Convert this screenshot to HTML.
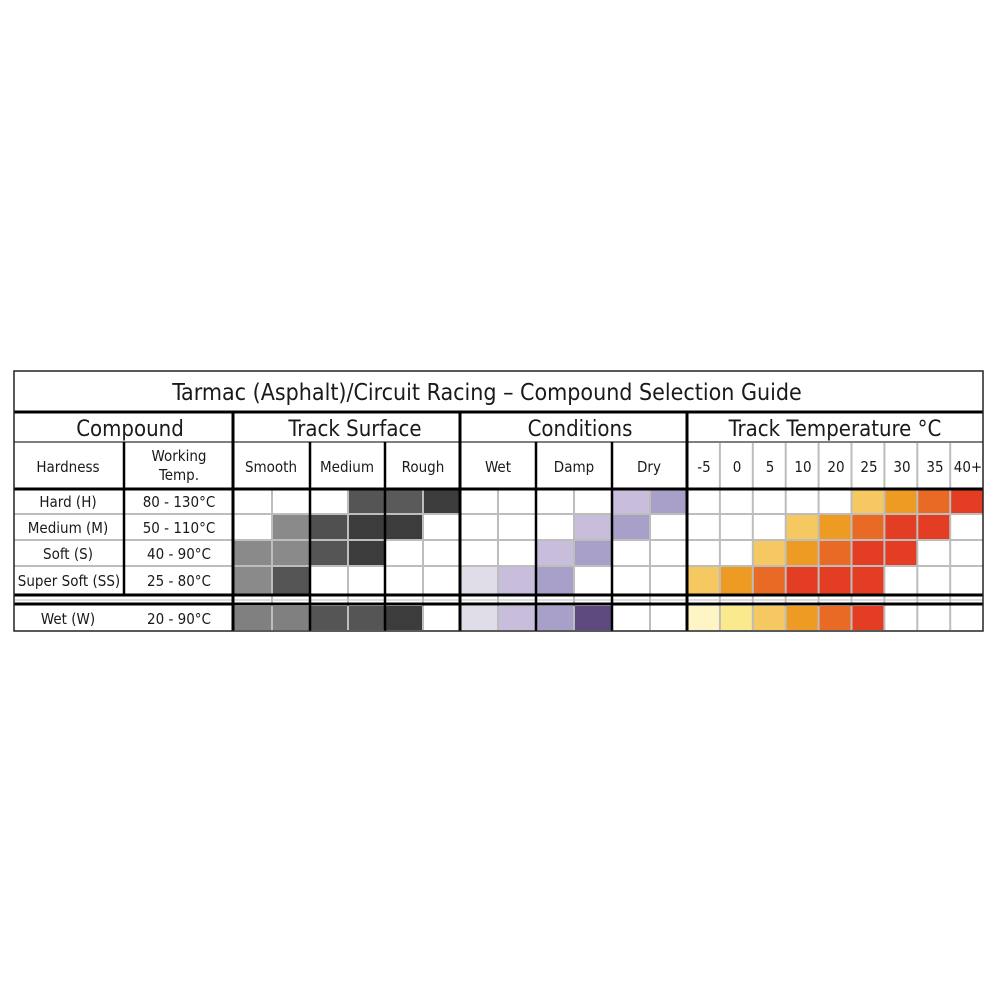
<!DOCTYPE html>
<html><head><meta charset="utf-8"><style>
html,body{margin:0;padding:0;background:#fff;}
svg{display:block;}
text{font-family:"DejaVu Sans Condensed","Liberation Sans Narrow","Liberation Sans",sans-serif;fill:#1a1a1a;}
</style></head><body>
<svg id="s" width="1000" height="1000" viewBox="0 0 1000 1000" xmlns="http://www.w3.org/2000/svg">
<rect width="1000" height="1000" fill="#fff"/>
<g id="cells"></g>
<g id="lines"></g>
<g text-anchor="middle">
<text x="487" y="400" font-size="23">Tarmac (Asphalt)/Circuit Racing – Compound Selection Guide</text>
<text x="130" y="436" font-size="22">Compound</text>
<text x="355" y="436" font-size="22">Track Surface</text>
<text x="580" y="436" font-size="22">Conditions</text>
<text x="835" y="436" font-size="22">Track Temperature °C</text>
<text x="68" y="472" font-size="15">Hardness</text>
<text x="179" y="461" font-size="15">Working</text>
<text x="179" y="480" font-size="15">Temp.</text>
<text x="271" y="472" font-size="15">Smooth</text>
<text x="347" y="472" font-size="15">Medium</text>
<text x="423" y="472" font-size="15">Rough</text>
<text x="498" y="472" font-size="15">Wet</text>
<text x="574" y="472" font-size="15">Damp</text>
<text x="649" y="472" font-size="15">Dry</text>
<text x="704" y="472" font-size="15">-5</text>
<text x="737" y="472" font-size="15">0</text>
<text x="770" y="472" font-size="15">5</text>
<text x="803" y="472" font-size="15">10</text>
<text x="836" y="472" font-size="15">20</text>
<text x="869" y="472" font-size="15">25</text>
<text x="902" y="472" font-size="15">30</text>
<text x="935" y="472" font-size="15">35</text>
<text x="968" y="472" font-size="15">40+</text>
<text x="68" y="507" font-size="15">Hard (H)</text>
<text x="68" y="533" font-size="15">Medium (M)</text>
<text x="68" y="559" font-size="15">Soft (S)</text>
<text x="69" y="586" font-size="15">Super Soft (SS)</text>
<text x="68" y="624" font-size="15">Wet (W)</text>
<text x="179" y="507" font-size="15">80 - 130°C</text>
<text x="179" y="533" font-size="15">50 - 110°C</text>
<text x="179" y="559" font-size="15">40 - 90°C</text>
<text x="179" y="586" font-size="15">25 - 80°C</text>
<text x="179" y="624" font-size="15">20 - 90°C</text>
</g>
</svg>
<script>
var NS="http://www.w3.org/2000/svg";
function el(p,t,a){var e=document.createElementNS(NS,t);for(var k in a)e.setAttribute(k,a[k]);document.getElementById(p).appendChild(e);}
var rows=[[490,514],[514,540],[540,566],[566,594],[606,630]];
var sx=[233,272,310,348,385,423,460,498,536,574,612,650,687];
var tx=[];for(var i=0;i<=9;i++)tx.push(687+i*32.9);
var w=null,A="#8a8a8a",B="#555",C="#3c3c3c",L1="#e0dde9",L2="#c8bedc",L3="#a9a0c9",P="#5e4a7e",Y="#f6c862",O="#ee9b23",D="#e86a25",R="#e33e24";
var data=[
[w,w,w,B,"#5a5a5a",C, w,w,w,w,L2,L3, w,w,w,w,w,Y,O,D,R],
[w,A,"#505050",C,C,w, w,w,w,L2,L3,w, w,w,w,Y,O,D,R,R,w],
[A,A,B,C,w,w, w,w,L2,L3,w,w, w,w,Y,O,D,R,R,w,w],
[A,B,w,w,w,w, L1,L2,L3,w,w,w, Y,O,D,R,R,R,w,w,w],
["#808080","#808080",B,B,C,w, L1,L2,L3,P,w,w, "#fdf5c5","#faea8d",Y,O,D,R,w,w,w]];
var cols=[];
for(var i=0;i<12;i++)cols.push([sx[i],sx[i+1]]);
for(var i=0;i<9;i++)cols.push([tx[i],tx[i+1]]);
for(var r=0;r<5;r++)for(var c=0;c<21;c++){var f=data[r][c];if(f)el("cells","rect",{x:cols[c][0],y:rows[r][0],width:cols[c][1]-cols[c][0],height:rows[r][1]-rows[r][0],fill:f});}
function ln(x1,y1,x2,y2,col,wd){el("lines","line",{x1:x1,y1:y1,x2:x2,y2:y2,stroke:col,"stroke-width":wd});}
var G="#bdbdbd";
[514,540,566].forEach(function(y){ln(14,y,983,y,G,2);});
ln(14,600,983,600,G,1);
for(var i=0;i<cols.length;i++){ln(cols[i][0],490,cols[i][0],630,G,2);}
for(var i=1;i<9;i++)ln(tx[i],443,tx[i],489,G,2);
ln(14,412,983,412,"#000",3);
ln(14,489,983,489,"#000",3);
ln(14,595,983,595,"#000",3);
ln(14,604,983,604,"#000",3);
ln(14,442,983,442,"#555",1.5);
[233,460,687].forEach(function(x){ln(x,412,x,631,"#000",3);});
[310,385,536,612].forEach(function(x){ln(x,442,x,631,"#000",2.5);});
ln(124,442,124,594,"#000",2.5);
el("lines","rect",{x:14,y:371,width:969,height:260,fill:"none",stroke:"#222","stroke-width":1.5});
</script>
</body></html>
